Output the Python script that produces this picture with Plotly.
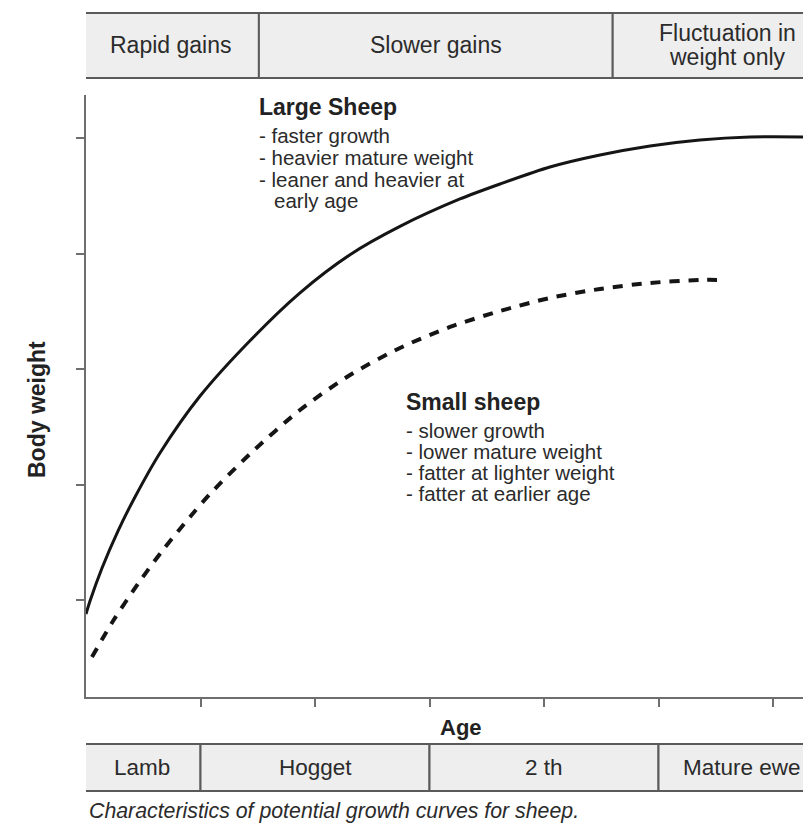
import plotly.graph_objects as go

# the page adds an 8px body margin, so the figure is drawn 8px smaller
PAGE_W, PAGE_H, PAD = 811, 823, 8
W, H = PAGE_W - PAD, PAGE_H - PAD

# growth curves (age in tick units, body weight in tick units)
large_age = [0.000, 0.035, 0.140, 0.279, 0.428, 0.646, 0.996, 1.432, 1.869, 2.306, 2.742,
             3.266, 3.616, 4.052, 4.489, 4.926, 5.362, 5.799, 6.332]
large_weight = [0.879, 0.991, 1.277, 1.597, 1.892, 2.273, 2.766, 3.245, 3.660, 3.990, 4.235,
                4.472, 4.602, 4.749, 4.853, 4.931, 4.983, 5.009, 5.009]
small_age = [0.052, 0.236, 0.472, 0.672, 0.908, 1.083, 1.432, 1.869, 2.306, 2.742, 3.179,
             3.616, 4.052, 4.489, 4.926, 5.362, 5.555]
small_weight = [0.506, 0.818, 1.165, 1.433, 1.719, 1.918, 2.264, 2.645, 2.948, 3.182, 3.364,
                3.502, 3.615, 3.693, 3.745, 3.771, 3.771]

# growth phases (top band) and age classes (bottom band)
phase_labels = [["Rapid gains"], ["Slower gains"], ["Fluctuation in", "weight only"]]
phase_edges = [-0.035, 1.51, 4.60, 6.60]
stage_labels = ["Lamb", "Hogget", "2 th", "Mature ewe"]
stage_edges = [-0.02, 1, 3, 5, 6.60]

x_ticks = [1, 2, 3, 4, 5, 6]
y_ticks = [1, 2, 3, 4, 5]

large_notes = ["- faster growth", "- heavier mature weight", "- leaner and heavier at", "early age"]
small_notes = ["- slower growth", "- lower mature weight", "- fatter at lighter weight", "- fatter at earlier age"]

FONT = "Liberation Sans, Arial, Helvetica, sans-serif"
TXT = "#2b2b2b"
EDGE = "#5a5a5a"
FILL = "#eeeeee"
AXIS = "#6e6e6e"


def px(x):
    # page pixel column -> paper x
    return (x - PAD) / W


def py(y):
    # page pixel row -> paper y
    return 1 - (y - PAD) / H


def label(text, x, y, size, xref="paper", xanchor="center", **kw):
    return dict(text=text, xref=xref, yref="paper", x=x, y=y, xanchor=xanchor, yanchor="middle",
                showarrow=False, font=dict(family=FONT, size=size, color=kw.pop("color", TXT)), **kw)


fig = go.Figure()

fig.add_trace(go.Scatter(x=large_age, y=large_weight, mode="lines",
                         line=dict(color="#151515", width=3, shape="spline", smoothing=0.8)))
fig.add_trace(go.Scatter(x=small_age, y=small_weight, mode="lines",
                         line=dict(color="#151515", width=4, shape="spline", smoothing=0.8,
                                   dash="10px,9px")))

shapes = []
annotations = []

# top band
for i, lines in enumerate(phase_labels):
    shapes.append(dict(type="rect", xref="x", yref="paper",
                       x0=phase_edges[i], x1=phase_edges[i + 1], y0=py(78), y1=py(13),
                       fillcolor=FILL, line=dict(color=EDGE, width=2), layer="below"))
    cx = (phase_edges[i] + phase_edges[i + 1]) / 2
    first = 45 - (len(lines) - 1) * 12
    for j, t in enumerate(lines):
        annotations.append(label(t, cx, py(first + j * 24), 23, xref="x"))

# bottom band
for i, t in enumerate(stage_labels):
    shapes.append(dict(type="rect", xref="x", yref="paper",
                       x0=stage_edges[i], x1=stage_edges[i + 1], y0=py(791), y1=py(744),
                       fillcolor=FILL, line=dict(color=EDGE, width=2), layer="below"))
    cx = (stage_edges[i] + min(stage_edges[i + 1], 6.46)) / 2
    annotations.append(label(t, cx, py(767), 22.5, xref="x"))

# curve notes
annotations.append(label("<b>Large Sheep</b>", px(257), py(107), 23, xanchor="left", color="#222"))
for j, t in enumerate(large_notes):
    x0 = 272 if j == 3 else 257
    annotations.append(label(t, px(x0), py(136 + j * 21.5), 20.5, xanchor="left"))

annotations.append(label("<b>Small sheep</b>", px(404), py(402), 23, xanchor="left", color="#222"))
for j, t in enumerate(small_notes):
    annotations.append(label(t, px(404), py(430 + j * 21), 20.5, xanchor="left"))

# axis titles and caption
annotations.append(label("<b>Age</b>", px(461), py(727), 22, color="#222"))
annotations.append(label("<b>Body weight</b>", px(37), py(410), 23, color="#222", textangle=-90))
annotations.append(label("<i>Characteristics of potential growth curves for sheep.</i>",
                         px(87), py(811), 21.3, xanchor="left"))

fig.update_layout(
    width=W, height=H,
    margin=dict(l=0, r=0, t=0, b=0),
    paper_bgcolor="white", plot_bgcolor="white",
    showlegend=False, hovermode=False,
    shapes=shapes, annotations=annotations,
    xaxis=dict(domain=[px(86), 1], range=[0, (PAGE_W - 86) / 114.5], showgrid=False, zeroline=False,
               showline=True, linecolor=AXIS, linewidth=2,
               ticks="outside", ticklen=8, tickwidth=2, tickcolor=AXIS,
               tickvals=x_ticks, showticklabels=False, fixedrange=True),
    yaxis=dict(domain=[py(697), py(95)], range=[1 - 97 / 115.5, 1 + 505 / 115.5], showgrid=False,
               zeroline=False, showline=True, linecolor=AXIS, linewidth=2,
               ticks="outside", ticklen=8, tickwidth=2, tickcolor=AXIS,
               tickvals=y_ticks, showticklabels=False, fixedrange=True),
)

fig.write_html("out.html")
